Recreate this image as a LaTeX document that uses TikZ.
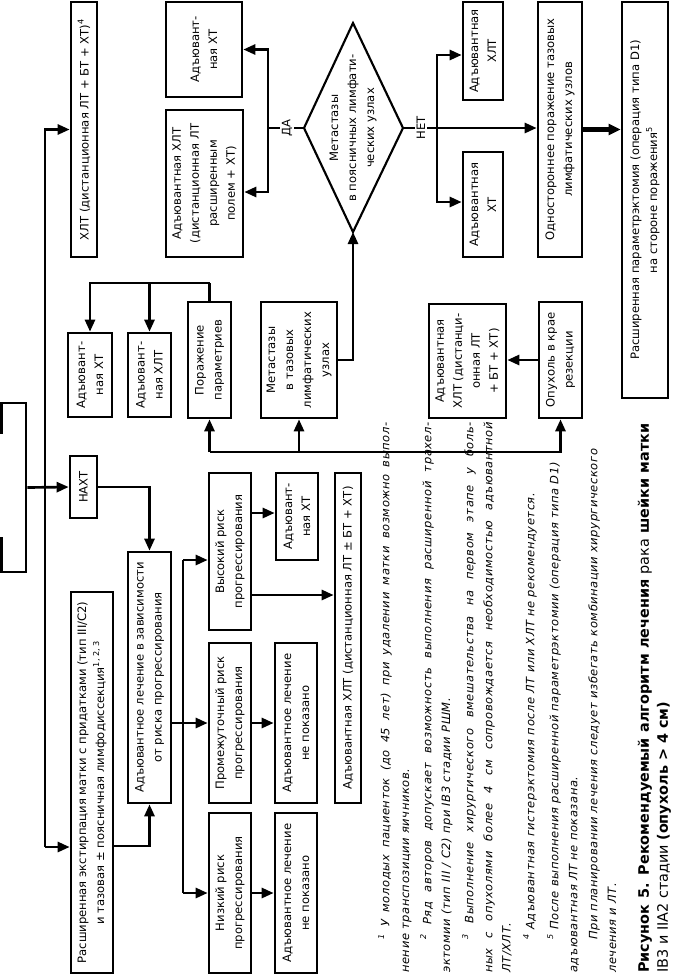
\documentclass[tikz,border=0pt]{standalone}
\usepackage{fontspec}
\setmainfont{DejaVu Sans}
\newfontfamily\fnfont[LetterSpace=5]{DejaVu Sans}
\usetikzlibrary{arrows.meta,calc}
\newcommand\bx[6]{\node[box, minimum width={(#5-#4)*0.75pt}, minimum height={(#3-#2)*0.75pt}] (#1) at ({(#2+#3)/2},{(#4+#5)/2}) {#6};}
\begin{document}
\begin{tikzpicture}[x=0.75pt,y=-0.75pt,
 box/.style={draw, line width=2pt, rotate=90, inner sep=1pt, align=center, font=\fontsize{8.7}{13.5}\selectfont},
 arr/.style={line width=2pt, -{Triangle[length=9pt,width=7.5pt]}},
 ln/.style={line width=2pt},
 lab/.style={rotate=90, fill=white, inner sep=1.5pt, font=\fontsize{8.7}{10}\selectfont},
 fn/.style={rotate=90, anchor=west, inner sep=0pt, font=\fnfont\itshape\fontsize{8.6}{10}\selectfont},
 captext/.style={rotate=90, anchor=west, inner sep=0pt, font=\fontsize{10.8}{12}\selectfont}]
\fill[white] (0,0) rectangle (672,975);
\useasboundingbox (0,0) rectangle (672,975);

% clipped box on the left
\bx{clip}{1.5}{26}{403}{572}{}
\fill[white] (-2,434) rectangle (5,537);

\bx{chlt4}{71}{97}{2}{257}{ХЛТ (дистанционная ЛТ + БТ + ХТ)\textsuperscript{4}}
\bx{naht}{70}{97}{456}{518}{НАХТ}
\bx{ext}{71}{113}{592}{973}{Расширенная экстирпация матки с придатками (тип III/C2)\\ и тазовая ± поясничная лимфодиссекция\textsuperscript{1, 2, 3}}
\bx{adjrisk}{128}{171}{552}{803}{Адъювантное лечение в зависимости\\ от риска прогрессирования}
\bx{vys}{209}{251}{473}{630}{Высокий риск\\ прогрессирования}
\bx{prom}{209}{251}{643}{803}{Промежуточный риск\\ прогрессирования}
\bx{niz}{209}{251}{813}{973}{Низкий риск\\ прогрессирования}
\bx{vysht}{276}{318}{473}{560}{Адъювант-\\ная ХТ}
\bx{promno}{275}{317}{643}{803}{Адъювантное лечение\\ не показано}
\bx{nizno}{275}{317}{813}{973}{Адъювантное лечение\\ не показано}
\bx{chltbot}{335}{361}{473}{803}{Адъювантная ХЛТ (дистанционная ЛТ ± БТ + ХТ)}
\bx{pht}{68}{112}{333}{417}{Адъювант-\\ная ХТ}
\bx{pchlt}{128}{171}{333}{417}{Адъювант-\\ная ХЛТ}
\bx{par}{188}{231}{302}{418}{Поражение\\ параметриев}
\bx{metpel}{261}{337}{302}{418}{Метастазы\\ в тазовых\\ лимфатических\\ узлах}
\bx{chltres}{429}{506}{304}{418}{Адъювантная\\ ХЛТ (дистанци-\\онная ЛТ\\ + БТ + ХТ)}
\bx{tumor}{539}{582}{302}{418}{Опухоль в крае\\ резекции}
\bx{daht}{166}{242}{2}{97}{Адъювант-\\ная ХТ}
\bx{dachlt}{166}{243}{110}{257}{Адъювантная ХЛТ\\ (дистанционная ЛТ\\ расширенным\\ полем + ХТ)}
\bx{nochlt}{463}{503}{2}{100}{Адъювантная\\ ХЛТ}
\bx{noht}{463}{503}{152}{257}{Адъювантная\\ ХТ}
\bx{one}{538}{582}{2}{257}{Одностороннее поражение тазовых\\ лимфатических узлов}
\bx{param}{622}{668}{2}{398}{Расширенная параметрэктомия (операция типа D1)\\ на стороне поражения\textsuperscript{5}}

% diamond
\coordinate (dL) at (304,128);
\coordinate (dT) at (353,23);
\coordinate (dR) at (403,128);
\coordinate (dB) at (353,232);
\draw[line width=1.6pt, line join=miter] (dL) -- (dT) -- (dR) -- (dB) -- cycle;
\node[rotate=90, align=center, inner sep=0pt, font=\fontsize{8.7}{13.5}\selectfont] (diam) at (353,128) {Метастазы\\ в поясничных лимфати-\\ ческих узлах};

% trunk
\coordinate (tk) at (45,847);
\draw[arr] (tk) |- (chlt4.north);
\draw[arr] (tk) -- (ext.north |- tk);
\draw[arr] (clip.south) -- (naht.north);
\draw[arr] (naht.south) -| (adjrisk.east);
\draw[arr] (ext.south |- 0,846) -| (adjrisk.west);

% risk bus
\coordinate (rb) at (183,723);
\draw[ln] (adjrisk.south |- rb) -- (rb);
\draw[ln] (rb |- 0,560) -- (rb |- niz.north);
\draw[arr] (rb |- 0,560) -- (vys.north |- 0,560);
\draw[arr] (rb) -- (prom.north);
\draw[arr] (rb |- niz.north) -- (niz.north);
\draw[arr] (vys.south |- 0,513) -- (vysht.north |- 0,513);
\draw[arr] (vys.south |- 0,595) -- (chltbot.north |- 0,595);
\draw[arr] (prom.south) -- (promno.north);
\draw[arr] (niz.south) -- (nizno.north);

% parametria
\coordinate (pt) at (209.5,283);
\draw[ln] (par.east) -- (pt);
\draw[arr] (pt) -| (pht.east);
\draw[arr] (pchlt.east |- pt) -- (pchlt.east);

% upper bus
\coordinate (bl) at (209.5,452);
\draw[arr] (bl) -- (par.west);
\draw[arr] (bl) -| (tumor.west);
\draw[arr] (metpel.west |- bl) -- (metpel.west);
\draw[arr] (tumor.north) -- (chltres.south |- tumor.north);
\draw[arr] (metpel.south) -| (dB);

% YES branch
\coordinate (dabr) at (268,128);
\draw[ln] (dL) -- (dabr);
\draw[arr] (dabr) |- (daht.south);
\draw[arr] (dabr) |- (dachlt.south |- 0,192);
\node[lab] (da) at (287,128) {ДА};

% NO branch
\coordinate (nbr) at (437,128);
\draw[arr] (dR) -- (one.north |- dR);
\draw[arr] (nbr) |- (nochlt.north |- 0,55);
\draw[arr] (nbr) |- (noht.north |- 0,202);
\node[lab] (net) at (421,128) {НЕТ};
\draw[line width=3.5pt, -{Triangle[length=9pt,width=8pt]}] (one.south) -- (param.north |- one.south);

% footnotes
\node[fn] (f1) at (385,940) {\makebox[388pt][s]{\textsuperscript{1} У молодых пациенток (до 45 лет) при удалении матки возможно выпол-}};
\node[fn] (f2) at (407,973) {нение транспозиции яичников.};
\node[fn] (f3) at (427,940) {\makebox[388pt][s]{\textsuperscript{2} Ряд авторов допускает возможность выполнения расширенной трахел-}};
\node[fn] (f4) at (447,973) {эктомии (тип III / C2) при IB3 стадии РШМ.};
\node[fn] (f5) at (469,940) {\makebox[388pt][s]{\textsuperscript{3} Выполнение хирургического вмешательства на первом этапе у боль-}};
\node[fn] (f6) at (489,973) {\makebox[413pt][s]{ных с опухолями более 4 см сопровождается необходимостью адъювантной}};
\node[fn] (f7) at (507,973) {ЛТ/ХЛТ.};
\node[fn] (f8) at (530,940) {\textsuperscript{4} Адъювантная гистерэктомия после ЛТ или ХЛТ не рекомендуется.};
\node[fn] (f9) at (554,940) {\textsuperscript{5} После выполнения расширенной параметрэктомии (операция типа D1)};
\node[fn] (f10) at (574,973) {адъювантная ЛТ не показана.};
\node[fn] (f11) at (594,940) {При планировании лечения следует избегать комбинации хирургического};
\node[fn] (f12) at (612,973) {лечения и ЛТ.};
\node[captext] (c1) at (645,973) {\makebox[412pt][s]{\textbf{Рисунок 5. Рекомендуемый алгоритм лечения} рака \textbf{шейки матки}}};
\node[captext] (c2) at (664,973) {IB3 и IIA2 стадии \textbf{(опухоль > 4 см)}};
\end{tikzpicture}
\end{document}
